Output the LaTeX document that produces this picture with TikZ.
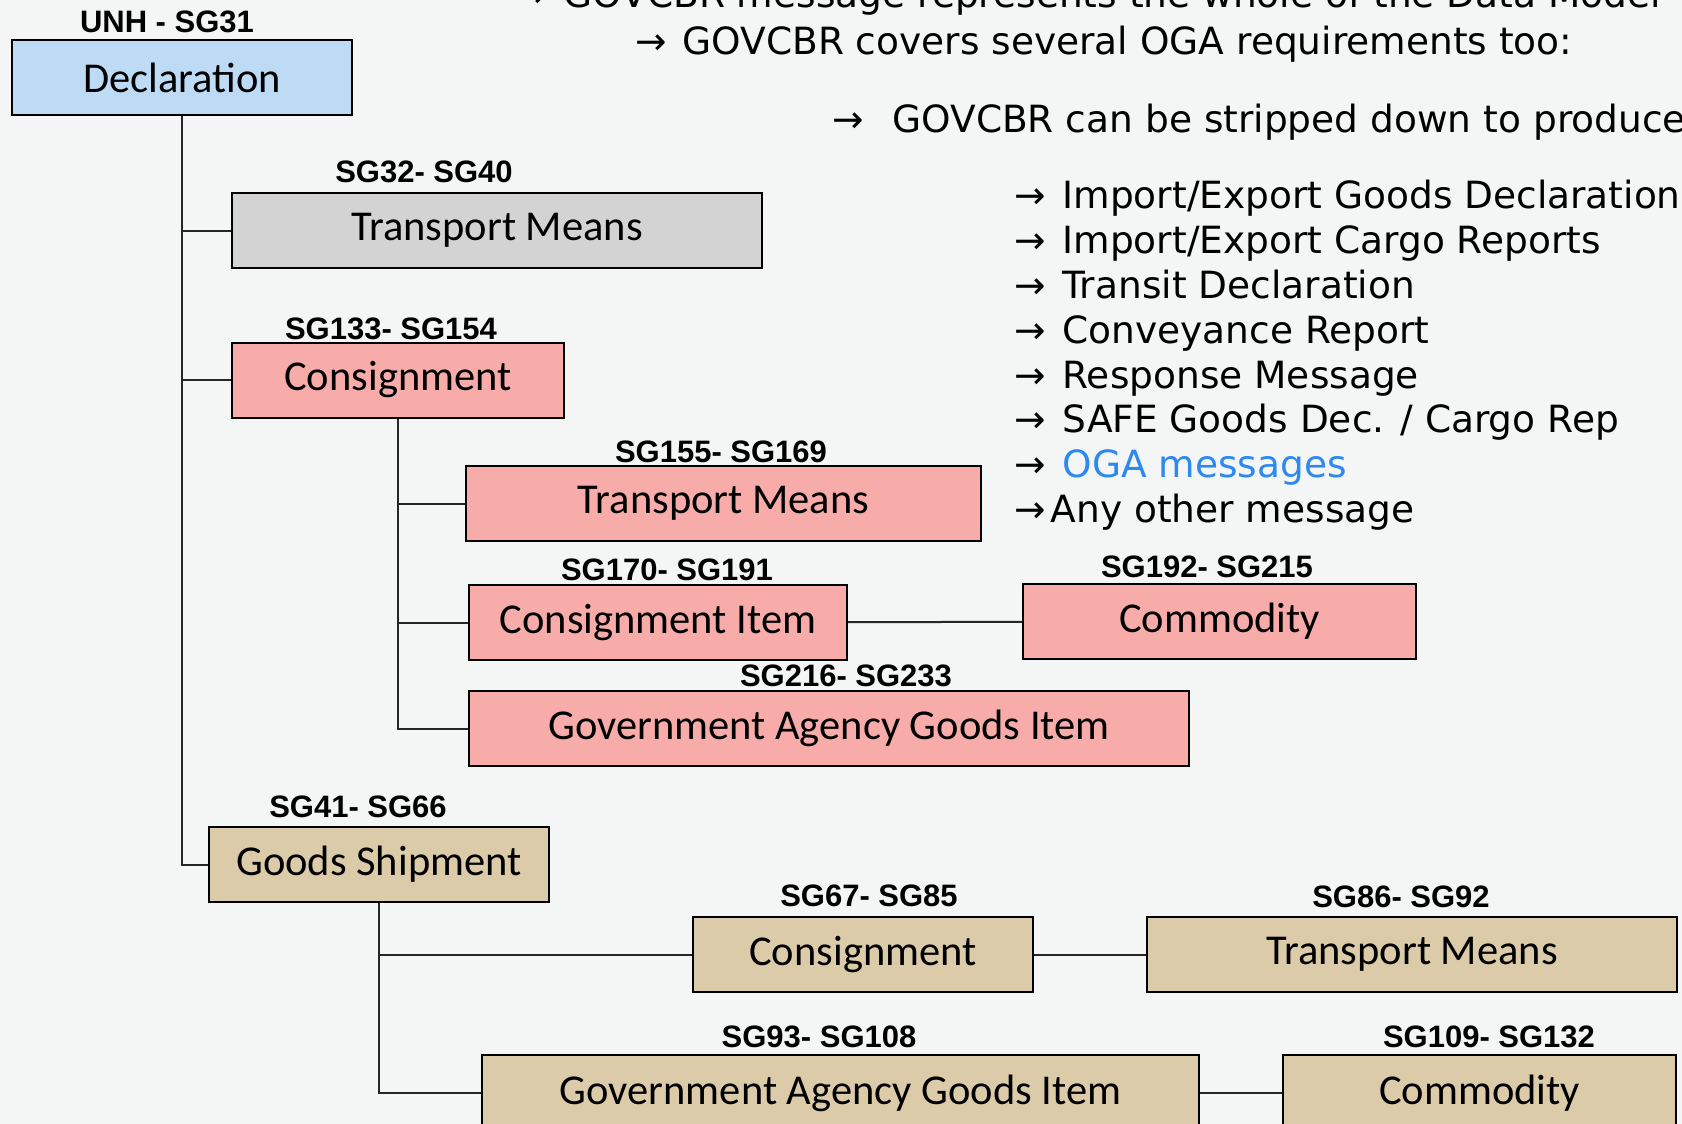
\documentclass[tikz,border=0pt]{standalone}
\usepackage{fontspec}
\setmainfont{DejaVu Sans}
\newfontfamily\boxfont{Carlito}
\newfontfamily\sgfont{Liberation Sans}
\usetikzlibrary{positioning}

\definecolor{bgcol}{RGB}{244,246,245}
\definecolor{declblue}{RGB}{189,219,245}
\definecolor{tmgray}{RGB}{211,211,211}
\definecolor{conspink}{RGB}{247,172,170}
\definecolor{shiptan}{RGB}{219,203,169}
\definecolor{ogablue}{RGB}{45,137,239}

\newcommand{\ra}{→\hspace{5pt}}

\tikzset{
  seg/.style={draw=black, line width=2pt, minimum height=75pt, inner sep=0pt, font=\boxfont\fontsize{42.5}{50}\selectfont},
  sglabel/.style={anchor=base, inner sep=0pt, font=\sgfont\bfseries\fontsize{31}{36}\selectfont},
  msg/.style={anchor=base west, inner sep=0pt, font=\fontsize{37.5}{44}\selectfont},
  link/.style={line width=2pt, draw=black!85}
}

\begin{document}
\begin{tikzpicture}[x=1pt,y=-1pt]
\useasboundingbox (0,0) rectangle (1682,1124);
\fill[bgcol] (0,0) rectangle (1682,1124);
\clip (0,0) rectangle (1682,1124);

% segment groups
\node[seg, fill=declblue, minimum width=340pt](decl) at (182,77.5) {Declaration};
\node[seg, fill=tmgray, minimum width=530pt](tmA) at (497,230.5) {Transport Means};
\node[seg, fill=conspink, minimum width=332pt](cons) at (398,380) {Consignment};
\node[seg, fill=conspink, minimum width=515pt](tmB) at (723.5,503.5) {Transport Means};
\node[seg, fill=conspink, minimum width=378pt](ci) at (658,622.5) {Consignment Item};
\node[seg, fill=conspink, minimum width=393pt](comm) at (1219.5,621.5) {Commodity};
\node[seg, fill=conspink, minimum width=720pt](gagi) at (829,728.5) {Government Agency Goods Item};
\node[seg, fill=shiptan, minimum width=340pt](gship) at (379,864.5) {Goods Shipment};
\node[seg, fill=shiptan, minimum width=340pt](consT) at (863,954.5) {Consignment};
\node[seg, fill=shiptan, minimum width=530pt](tmT) at (1412,954.5) {Transport Means};
\node[seg, fill=shiptan, minimum width=717pt, minimum height=76pt](gagiT) at (840.5,1093) {Government Agency Goods Item};
\node[seg, fill=shiptan, minimum width=393pt, minimum height=76pt](commT) at (1479.5,1093) {Commodity};

% segment ranges
\node[sglabel](lDecl) at (167,33) {UNH - SG31};
\node[sglabel](lTmA) at (424,182) {SG32- SG40};
\node[sglabel](lCons) at (391,339) {SG133- SG154};
\node[sglabel](lTmB) at (721,462) {SG155- SG169};
\node[sglabel](lCi) at (667,580) {SG170- SG191};
\node[sglabel](lComm) at (1207,577) {SG192- SG215};
\node[sglabel](lGagi) at (846,686) {SG216- SG233};
\node[sglabel](lShip) at (358,817) {SG41- SG66};
\node[sglabel](lConsT) at (869,906) {SG67- SG85};
\node[sglabel](lTmT) at (1401,907) {SG86- SG92};
\node[sglabel](lGagiT) at (819,1047) {SG93- SG108};
\node[sglabel](lCommT) at (1489,1047) {SG109- SG132};

% notes
\node[msg](m1) at (515,8) {\ra\ GOVCBR message represents the whole of the Data Model};
\node[msg](m2) at (635,55) {→\hspace{4pt} GOVCBR covers several OGA requirements too:};
\node[msg](m3) at (832,132) {\ra\ \ GOVCBR can be stripped down to produce};
\node[msg](p1) at (1014,208) {\ra\ Import/Export Goods Declaration};
\node[msg](p2) at (1014,253) {\ra\ Import/Export Cargo Reports};
\node[msg](p3) at (1014,298) {\ra\ Transit Declaration};
\node[msg](p4) at (1014,343) {\ra\ Conveyance Report};
\node[msg](p5) at (1014,388) {\ra\ Response Message};
\node[msg](p6) at (1014,432) {\ra\ SAFE Goods Dec. / Cargo Rep};
\node[msg](p7) at (1014,477) {\ra\ {\color{ogablue}OGA messages}};
\node[msg](p8) at (1014,522) {\ra Any other message};

\draw[link] (decl.south) |- (tmA.west);
\draw[link] (decl.south) |- (cons.west);
\draw[link] (decl.south) |- (gship.west);
\draw[link] (cons.south) |- (tmB.west);
\draw[link] (cons.south) |- (ci.west);
\draw[link] (cons.south) |- (gagi.west);
\draw[link] (ci) -- (comm);
\draw[link] (gship.south) |- (consT.west);
\draw[link] (gship.south) |- (gagiT.west);
\draw[link] (consT) -- (tmT);
\draw[link] (gagiT) -- (commT);
\end{tikzpicture}
\end{document}
